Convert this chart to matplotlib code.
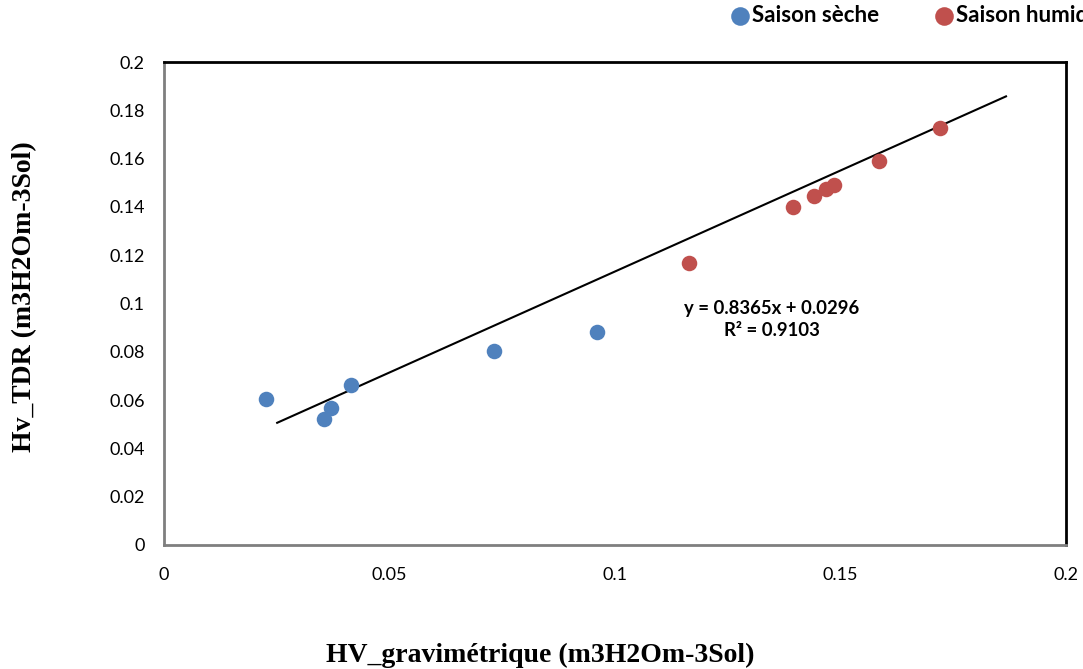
import numpy as np
import matplotlib.pyplot as plt

# humidité volumique : gravimétrie vs sonde TDR
x_seche = [0.0226, 0.0355, 0.0370, 0.0415, 0.0732, 0.0960]
y_seche = [0.0605, 0.0522, 0.0567, 0.0663, 0.0803, 0.0882]
x_humide = [0.1164, 0.1395, 0.1441, 0.1467, 0.1486, 0.1585, 0.1721]
y_humide = [0.1168, 0.1400, 0.1445, 0.1474, 0.1490, 0.1591, 0.1728]

pente, origine, r2 = 0.8365, 0.0296, 0.9103
x_trend = [0.0251, 0.1867]

x_ticks = [0, 0.05, 0.1, 0.15, 0.2]
x_ticklabels = ["0", "0.05", "0.1", "0.15", "0.2"]
y_ticks = np.round(np.arange(0, 0.201, 0.02), 2)
y_ticklabels = ["0", "0.02", "0.04", "0.06", "0.08", "0.1", "0.12", "0.14", "0.16", "0.18", "0.2"]

plt.rcParams["font.family"] = ["Lato", "DejaVu Sans"]

fig = plt.figure(figsize=(10.83, 6.69), dpi=100)
ax = fig.add_axes([0.1514, 0.1854, 0.8329, 0.7219])

ax.scatter(x_seche, y_seche, s=125, color="#4F81BD", label="Saison sèche", zorder=3, linewidths=0)
ax.scatter(x_humide, y_humide, s=125, color="#C0504D", label="Saison humide", zorder=3, linewidths=0)

xt = np.array(x_trend)
ax.plot(xt, pente * xt + origine, color="black", lw=1.5, zorder=2)

ax.text(0.1348, 0.0935, f"y = {pente}x + {origine}\nR² = {r2}", ha="center", va="center",
        fontsize=13.3, fontweight="bold", linespacing=1.35)

ax.set_xlim(0, 0.2)
ax.set_ylim(0, 0.2)
ax.set_xticks(x_ticks)
ax.set_xticklabels(x_ticklabels)
ax.set_yticks(y_ticks)
ax.set_yticklabels(y_ticklabels)
ax.tick_params(axis="both", length=0, labelsize=13)
ax.tick_params(axis="x", pad=16)
ax.tick_params(axis="y", pad=14)

for side in ["top", "right"]:
    ax.spines[side].set_color("black")
    ax.spines[side].set_linewidth(2)
for side in ["left", "bottom"]:
    ax.spines[side].set_color("#7f7f7f")
    ax.spines[side].set_linewidth(2)

# titres des axes placés sur la figure
fig.text(540 / 1083, 1 - 655 / 669, "HV_gravimétrique (m3H2Om-3Sol)", family="Liberation Serif",
         fontweight="bold", fontsize=20, ha="center", va="center")
fig.text(25 / 1083, 1 - 297 / 669, "Hv_TDR (m3H2Om-3Sol)", family="Liberation Serif",
         fontweight="bold", fontsize=20, ha="center", va="center", rotation=90)

fig.legend(loc="center left", bbox_to_anchor=(731 / 1083, 1 - 15 / 669), ncol=2, frameon=False,
           prop={"weight": "bold", "size": 16}, handlelength=0.8, handletextpad=0.15,
           columnspacing=2.5, markerscale=1.2, borderaxespad=0, borderpad=0)

fig.savefig("out.png", dpi=100)
